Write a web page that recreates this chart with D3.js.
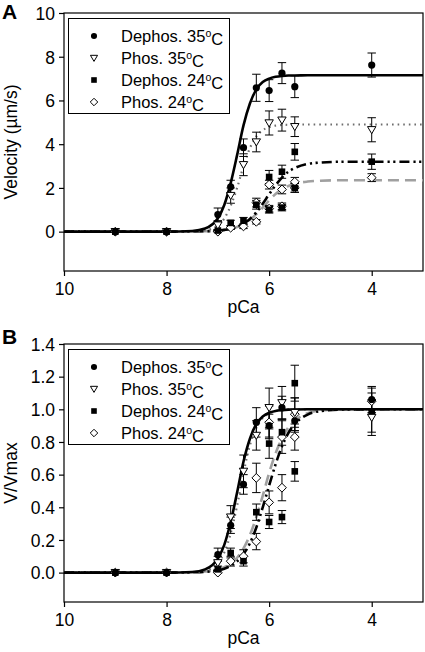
<!DOCTYPE html>
<html><head><meta charset="utf-8">
<script src="https://cdn.jsdelivr.net/npm/d3@7"></script>
<style>
html,body{margin:0;padding:0;background:#fff;}
svg text{font-family:"Liberation Sans",Arial,sans-serif;fill:#000;}
</style></head>
<body><svg id="c" width="425" height="652"></svg>
<script>
// ---------- data ----------
const xTicks = [10, 8, 6, 4];
const yTicksA = [0, 2, 4, 6, 8, 10];
const yTicksB = [0, 0.2, 0.4, 0.6, 0.8, 1.0, 1.2, 1.4];
const seriesNames = ["Dephos. 35", "Phos. 35", "Dephos. 24", "Phos. 24"];

const pCa35 = [9, 8, 7, 6.75, 6.5, 6.25, 6, 5.75, 5.5, 4];
const dephos35A = [0, 0, 0.78, 2.05, 3.84, 6.58, 6.45, 7.25, 6.63, 7.62];
const dephos35AErr = [0, 0, 0.3, 0.3, 0.4, 0.62, 0.5, 0.48, 0.5, 0.55];
const phos35A = [0, 0, 0.3, 1.65, 3.06, 4.1, 4.97, 5.1, 4.8, 4.66];
const phos35AErr = [0, 0, 0.2, 0.35, 0.5, 0.45, 0.55, 0.5, 0.45, 0.55];
const dephos35B = [0, 0, 0.11, 0.29, 0.54, 0.92, 0.9, 1.01, 0.93, 1.06];
const dephos35BErr = [0, 0, 0.04, 0.05, 0.06, 0.09, 0.07, 0.07, 0.07, 0.08];
const phos35B = [0, 0, 0.06, 0.34, 0.62, 0.84, 1.01, 1.04, 0.98, 0.95];
const phos35BErr = [0, 0, 0.04, 0.07, 0.1, 0.09, 0.12, 0.1, 0.09, 0.11];

const pCa24D = [9, 8, 7, 6.75, 6.5, 6.25, 6, 6, 5.75, 5.75, 5.5, 5.5, 4];
const dephos24A = [0, 0, 0.05, 0.4, 0.5, 1.23, 2.5, 1.0, 2.74, 1.1, 3.65, 2.0, 3.2];
const dephos24AErr = [0, 0, 0.05, 0.12, 0.15, 0.2, 0.3, 0.15, 0.3, 0.15, 0.38, 0.2, 0.35];
const dephos24B = [0, 0, 0.02, 0.12, 0.07, 0.37, 0.79, 0.31, 0.86, 0.34, 1.16, 0.62, 0.98];
const dephos24BErr = [0, 0, 0.02, 0.03, 0.03, 0.05, 0.09, 0.04, 0.08, 0.04, 0.11, 0.06, 0.12];

const pCa24P = [9, 8, 7, 6.75, 6.5, 6.25, 6.25, 6, 6, 5.75, 5.75, 5.5, 5.5, 4];
const phos24A = [0, 0, 0, 0.18, 0.24, 0.45, 1.33, 1.05, 2.15, 1.16, 1.93, 2.0, 2.28, 2.47];
const phos24AErr = [0, 0, 0, 0.08, 0.1, 0.1, 0.2, 0.15, 0.2, 0.15, 0.2, 0.2, 0.2, 0.18];
const phos24B = [0, 0, 0, 0.07, 0.1, 0.19, 0.58, 0.43, 0.92, 0.52, 0.83, 0.83, 0.97, 1.05];
const phos24BErr = [0, 0, 0, 0.03, 0.04, 0.05, 0.09, 0.07, 0.1, 0.08, 0.1, 0.08, 0.1, 0.08];

// fitted curves, read at these pCa values
const curvePCa = [10, 8, 7.5, 7.25, 7, 6.875, 6.75, 6.625, 6.5, 6.375, 6.25, 6.125, 6, 5.875, 5.75, 5.625, 5.5, 5.25, 5, 4.5, 4, 3];
const fitDephos35A = [0, 0, 0.03, 0.14, 0.61, 1.22, 2.22, 3.5, 4.86, 5.86, 6.51, 6.84, 7.0, 7.08, 7.12, 7.14, 7.14, 7.15, 7.15, 7.15, 7.15, 7.15];
const fitPhos35A = [0, 0, 0.01, 0.06, 0.29, 0.6, 1.18, 2.0, 2.99, 3.82, 4.35, 4.64, 4.78, 4.85, 4.88, 4.89, 4.9, 4.9, 4.9, 4.9, 4.9, 4.9];
const fitDephos24A = [0, 0, 0.01, 0.02, 0.04, 0.08, 0.13, 0.22, 0.36, 0.58, 0.88, 1.28, 1.71, 2.12, 2.47, 2.74, 2.91, 3.1, 3.16, 3.2, 3.2, 3.2];
const fitPhos24A = [0, 0, 0.005, 0.015, 0.04, 0.08, 0.13, 0.21, 0.35, 0.54, 0.8, 1.1, 1.43, 1.72, 1.93, 2.09, 2.19, 2.29, 2.33, 2.35, 2.35, 2.35];
const fitDephos35B = [0, 0, 0.004, 0.02, 0.086, 0.17, 0.31, 0.49, 0.68, 0.82, 0.91, 0.956, 0.979, 0.99, 0.995, 0.998, 0.999, 1, 1, 1, 1, 1];
const fitPhos35B = [0, 0, 0.0025, 0.012, 0.059, 0.123, 0.24, 0.41, 0.61, 0.78, 0.887, 0.946, 0.975, 0.989, 0.995, 0.998, 0.999, 1, 1, 1, 1, 1];
const fitDephos24B = [0, 0, 0.002, 0.005, 0.014, 0.024, 0.041, 0.069, 0.113, 0.18, 0.276, 0.40, 0.533, 0.663, 0.773, 0.855, 0.91, 0.968, 0.989, 0.999, 1, 1];
const fitPhos24B = [0, 0, 0.002, 0.0065, 0.019, 0.033, 0.055, 0.091, 0.148, 0.23, 0.34, 0.47, 0.61, 0.73, 0.82, 0.89, 0.93, 0.976, 0.992, 0.999, 1, 1];

// ---------- drawing ----------
const svg = d3.select("#c");
const X0 = 64, X1 = 423;
const x = d3.scaleLinear().domain([10, 3]).range([X0, X1]);

const styles = [
  {marker: "circle", line: {stroke: "#000", width: 2.6, dash: null}},
  {marker: "tri", line: {stroke: "#6e6e6e", width: 2.2, dash: "1.6,4"}},
  {marker: "square", line: {stroke: "#000", width: 2.6, dash: "10,4,2.2,3.5,2.2,4"}},
  {marker: "diamond", line: {stroke: "#a0a0a0", width: 2.6, dash: "11,6"}}
];

function marker(g, type, cx, cy, k) {
  k = k || 1;
  if (type === "circle") {
    g.append("circle").attr("cx", cx).attr("cy", cy).attr("r", 3.6 * k).attr("fill", "#000");
  } else if (type === "tri") {
    const s = 4.2 * k;
    g.append("path").attr("d", `M${cx - s},${cy - s * 0.75}L${cx + s},${cy - s * 0.75}L${cx},${cy + s * 0.95}Z`)
      .attr("fill", "#fff").attr("stroke", "#000").attr("stroke-width", 1);
  } else if (type === "square") {
    const h = 3.3 * k;
    g.append("rect").attr("x", cx - h).attr("y", cy - h).attr("width", 2 * h).attr("height", 2 * h).attr("fill", "#000");
  } else {
    const s = 4.4 * k;
    g.append("path").attr("d", `M${cx},${cy - s}L${cx + s},${cy}L${cx},${cy + s}L${cx - s},${cy}Z`)
      .attr("fill", "#fff").attr("stroke", "#000").attr("stroke-width", 1);
  }
}

function panel(opt) {
  const y = d3.scaleLinear().domain(opt.yDomain).range([opt.bottom, opt.top]);
  const g = svg.append("g");

  // frame
  g.append("rect").attr("x", X0).attr("y", opt.top).attr("width", X1 - X0).attr("height", opt.bottom - opt.top)
    .attr("fill", "none").attr("stroke", "#000").attr("stroke-width", 1.2);

  // axes
  const ya = g.append("g").attr("transform", `translate(${X0},0)`)
    .call(d3.axisLeft(y).tickValues(opt.yTicks).tickFormat(opt.yFormat).tickSize(5).tickSizeOuter(0).tickPadding(4));
  ya.select(".domain").remove();
  ya.selectAll("text").style("font-size", "17.5px").attr("dy", "0.36em");
  const xa = g.append("g").attr("transform", `translate(0,${opt.bottom})`)
    .call(d3.axisBottom(x).tickValues(xTicks).tickFormat(d3.format("d")).tickSize(5).tickSizeOuter(0).tickPadding(7));
  xa.select(".domain").remove();
  xa.selectAll("text").style("font-size", "17.5px");
  g.selectAll(".tick line").attr("stroke", "#000").attr("stroke-width", 1.2);

  g.append("text").attr("x", (X0 + X1) / 2).attr("y", opt.bottom + 42).attr("text-anchor", "middle")
    .style("font-size", "17.5px").text("pCa");
  g.append("text").attr("transform", `translate(17,${(opt.top + opt.bottom) / 2}) rotate(-90)`)
    .attr("text-anchor", "middle").style("font-size", "17.5px").text(opt.yTitle);
  g.append("text").attr("x", 2).attr("y", opt.letterY).style("font-size", "21px").style("font-weight", "bold").text(opt.letter);

  // fitted curves
  const line = d3.line().x(d => x(d[0])).y(d => y(d[1])).curve(d3.curveMonotoneX);
  const order = [3, 2, 1, 0];
  order.forEach(i => {
    const pts = curvePCa.map((p, k) => [p, opt.fits[i][k]]);
    const st = styles[i].line;
    const p = g.append("path").attr("d", line(pts)).attr("fill", "none")
      .attr("stroke", st.stroke).attr("stroke-width", st.width);
    if (st.dash) p.attr("stroke-dasharray", st.dash);
  });

  // error bars + markers
  order.forEach(i => {
    const s = opt.series[i];
    s.p.forEach((p, k) => {
      const cx = x(p), v = s.v[k], e = s.e[k];
      if (e > 0) {
        const y1 = y(v + e), y2 = y(v - e);
        g.append("line").attr("x1", cx).attr("x2", cx).attr("y1", y1).attr("y2", y2).attr("stroke", "#000").attr("stroke-width", 1);
        [y1, y2].forEach(yy => g.append("line").attr("x1", cx - 4.2).attr("x2", cx + 4.2).attr("y1", yy).attr("y2", yy)
          .attr("stroke", "#000").attr("stroke-width", 1));
      }
    });
  });
  order.forEach(i => {
    const s = opt.series[i];
    s.p.forEach((p, k) => marker(g, styles[i].marker, x(p), y(s.v[k])));
  });

  // legend
  const lg = g.append("g");
  lg.append("rect").attr("x", 68.5).attr("y", opt.top + 5.5).attr("width", 161).attr("height", 95)
    .attr("fill", "#fff").attr("stroke", "#000").attr("stroke-width", 1);
  seriesNames.forEach((n, i) => {
    const cy = opt.top + 23 + i * 22;
    marker(lg, styles[i].marker, 94, cy, 0.85);
    const t = lg.append("text").attr("x", 121).attr("y", cy + 6).style("font-size", "16.5px");
    t.append("tspan").text(n);
    t.append("tspan").attr("dy", "-0.45em").style("font-size", "10.5px").text("o");
    t.append("tspan").attr("dy", "0.45em").text("C");
  });
}

panel({
  top: 13, bottom: 271, yDomain: [-1.8, 10], yTicks: yTicksA, yFormat: d3.format("d"),
  yTitle: "Velocity (µm/s)", letter: "A", letterY: 19,
  fits: [fitDephos35A, fitPhos35A, fitDephos24A, fitPhos24A],
  series: [
    {p: pCa35, v: dephos35A, e: dephos35AErr},
    {p: pCa35, v: phos35A, e: phos35AErr},
    {p: pCa24D, v: dephos24A, e: dephos24AErr},
    {p: pCa24P, v: phos24A, e: phos24AErr}
  ]
});
panel({
  top: 344, bottom: 602, yDomain: [-0.18, 1.4], yTicks: yTicksB, yFormat: d3.format(".1f"),
  yTitle: "V/Vmax", letter: "B", letterY: 344,
  fits: [fitDephos35B, fitPhos35B, fitDephos24B, fitPhos24B],
  series: [
    {p: pCa35, v: dephos35B, e: dephos35BErr},
    {p: pCa35, v: phos35B, e: phos35BErr},
    {p: pCa24D, v: dephos24B, e: dephos24BErr},
    {p: pCa24P, v: phos24B, e: phos24BErr}
  ]
});
</script></body></html>
